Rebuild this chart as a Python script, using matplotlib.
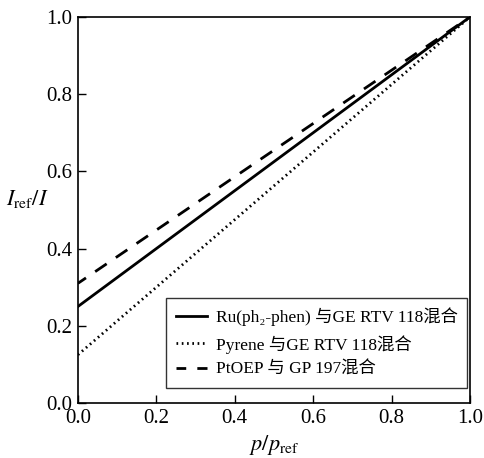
import matplotlib.pyplot as plt
import numpy as np

plt.rcParams['font.family'] = ['Liberation Serif', 'Noto Sans CJK SC', 'DejaVu Serif']
plt.rcParams['mathtext.fontset'] = 'stix'

# end points of the three straight lines (x = p/p_ref, y = I_ref/I)
p_ratio = [0.0, 1.0]
ru_phen = [0.25, 1.0]
pyrene = [0.125, 1.0]
ptoep = [0.31, 1.0]

labels = ['Ru(ph\u2082-phen) 与GE RTV 118混合',
          'Pyrene 与GE RTV 118混合',
          'PtOEP 与 GP 197混合']

fig = plt.figure(figsize=(4.84, 4.58), dpi=100)
ax = fig.add_axes([0.161, 0.12, 0.81, 0.843])

ax.plot(p_ratio, ru_phen, color='black', lw=2.0, ls='-', label=labels[0])
ax.plot(p_ratio, pyrene, color='black', lw=2.0, ls=(0, (0.6, 1.3)), label=labels[1])
ax.plot(p_ratio, ptoep, color='black', lw=2.0, ls=(1.5, (5, 4)), label=labels[2])

ax.set_xlim(0, 1)
ax.set_ylim(0, 1)
ax.set_xticks(np.arange(0, 1.01, 0.2))
ax.set_yticks(np.arange(0, 1.01, 0.2))
ax.xaxis.set_major_formatter(plt.FormatStrFormatter('%.1f'))
ax.yaxis.set_major_formatter(plt.FormatStrFormatter('%.1f'))
ax.tick_params(direction='in', length=6, width=1, labelsize=15, colors='black', pad=4)
for s in ax.spines.values():
    s.set_linewidth(1.2)

ax.set_xlabel(r'$p/p_{\rm ref}$', fontsize=16, labelpad=4)
ax.set_ylabel(r'$I_{\rm ref}/I$', fontsize=16, rotation=0)
ax.yaxis.set_label_coords(-0.13, 0.5)

leg = ax.legend(loc='lower right', bbox_to_anchor=(0.993, 0.04), fontsize=12.5,
                frameon=True, fancybox=False, edgecolor='black',
                handlelength=1.8, handletextpad=0.5, borderpad=0.55, labelspacing=0.48,
                borderaxespad=0.0)
leg.get_frame().set_linewidth(1.0)

fig.savefig('out.png', dpi=100)
